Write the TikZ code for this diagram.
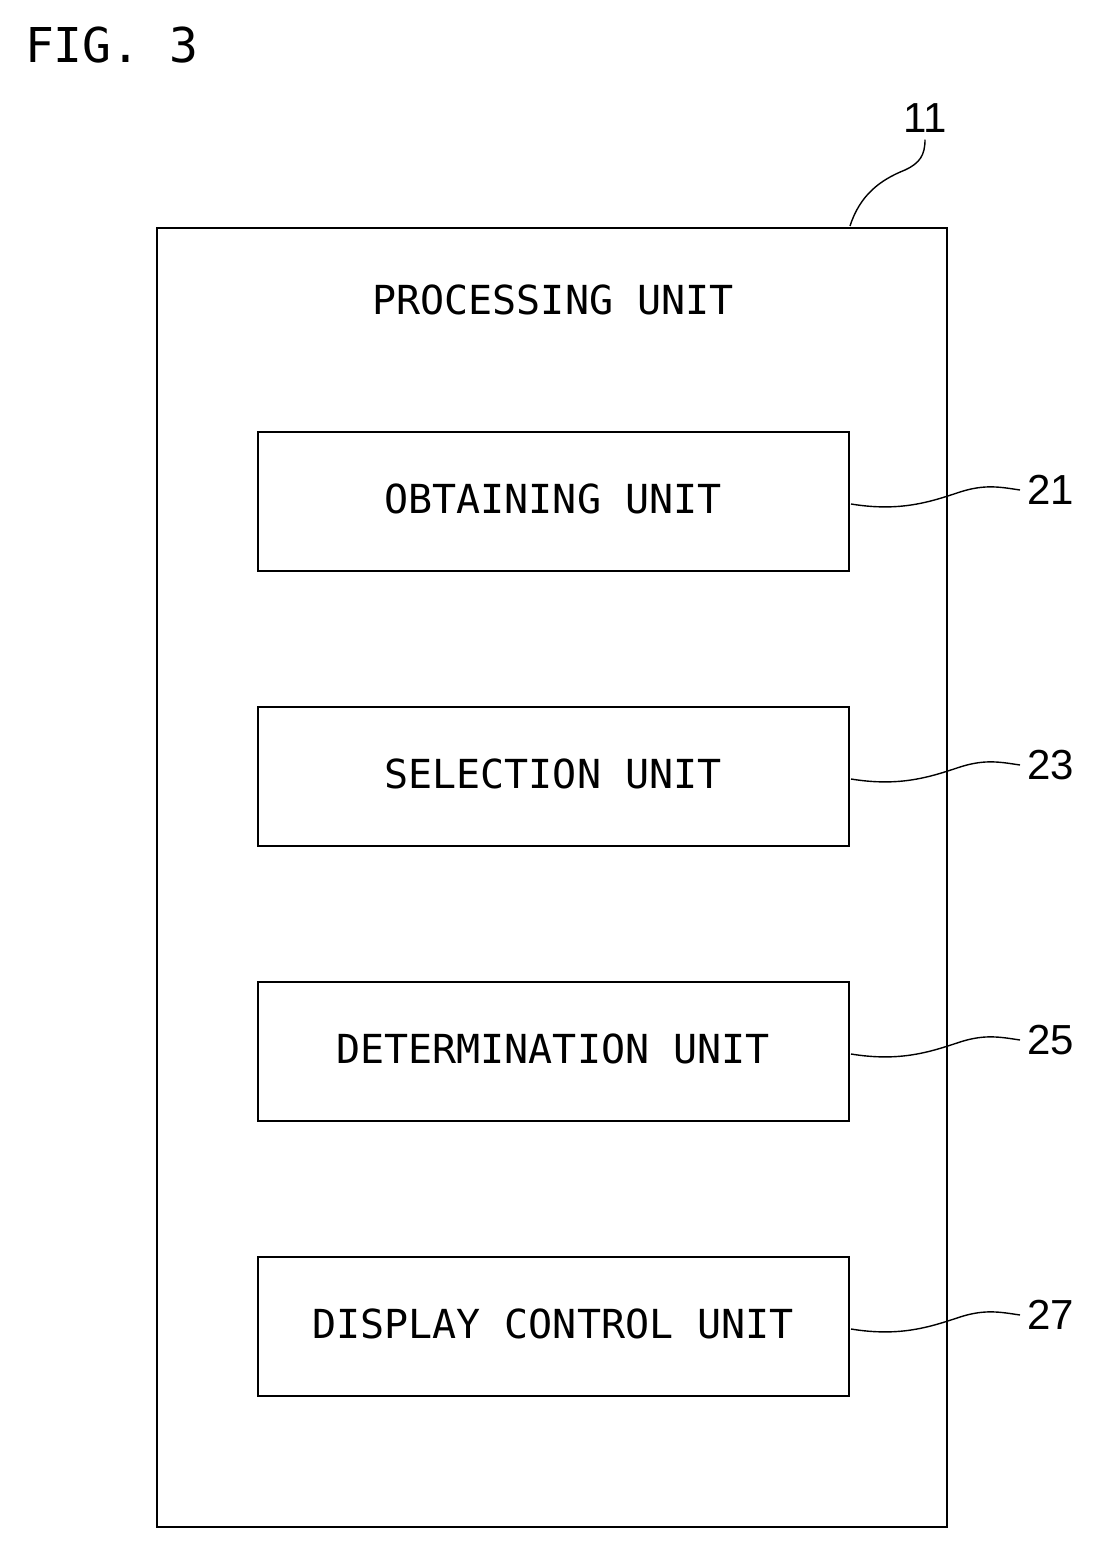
\documentclass[tikz,border=0pt]{standalone}
\usepackage{fontspec}
\setmainfont{DejaVu Sans Mono}
\setsansfont{Liberation Sans}
\begin{document}
\begin{tikzpicture}[x=0.5pt,y=-0.5pt,
  box/.style={draw,line width=1.3pt},
  lbl/.style={font=\fontsize{20}{22}\selectfont},
  num/.style={font=\sffamily\fontsize{21}{23}\selectfont},
  lead/.style={line width=0.7pt}]
\useasboundingbox (0,0) rectangle (1115,1552);
\node[lbl,anchor=west] (fig) at (18,45) {\fontsize{24}{26}\selectfont FIG. 3};
\draw[box] (157,228) rectangle (947,1527);
\coordinate (outer) at (850,226);
\node[lbl] (pu) at (553,300) {PROCESSING UNIT};
\foreach \n/\t/\y/\c in {a/OBTAINING UNIT/432/21, b/SELECTION UNIT/707/23, c/DETERMINATION UNIT/982/25, d/DISPLAY CONTROL UNIT/1257/27}{
  \draw[box] (258,\y) rectangle (849,\y+139);
  \node[lbl] (t\n) at (553,\y+67) {\t};
  \coordinate (s\n) at (851,\y+72);
  \node[num,anchor=west] (n\n) at (1020,\y+58) {\c};
  \draw[lead] (s\n) .. controls (900,\y+80) and (930,\y+70) .. (960,\y+60) .. controls (985,\y+52) and (1000,\y+55) .. (n\n.west);
}
\node[num] (n11) at (925,118) {11};
\draw[lead] (outer) .. controls (860,195) and (880,180) .. (905,170) .. controls (920,163) and (925,155) .. (n11.south);
\end{tikzpicture}
\end{document}
